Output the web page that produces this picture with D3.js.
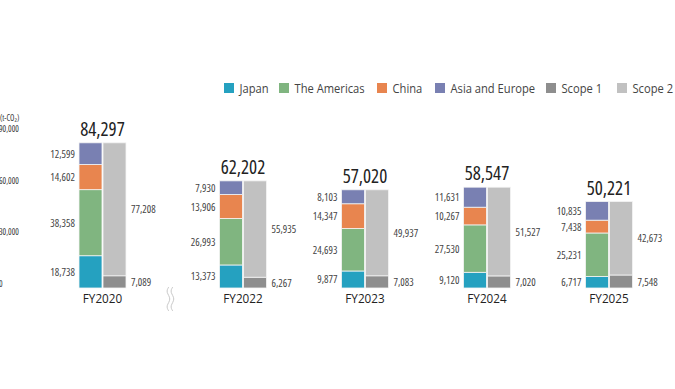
<!DOCTYPE html>
<html>
<head>
<meta charset="utf-8">
<script src="https://cdn.jsdelivr.net/npm/d3@7"></script>
<style>
  body { margin: 0; background: #fff; }
  svg text { font-family: "Open Sans", "Noto Sans", sans-serif; font-stretch: 75%; fill: #222; }
  svg text.wide { font-stretch: 100%; }
</style>
</head>
<body>
<svg id="chart" width="675" height="389"></svg>
<script>
// data
var years = ["FY2020", "FY2022", "FY2023", "FY2024", "FY2025"]
var japan = [18738, 13373, 9877, 9120, 6717]
var americas = [38358, 26993, 24693, 27530, 25231]
var china = [14602, 13906, 14347, 10267, 7438]
var asiaEurope = [12599, 7930, 8103, 11631, 10835]
var scope1 = [7089, 6267, 7083, 7020, 7548]
var scope2 = [77208, 55935, 49937, 51527, 42673]
var totals = [84297, 62202, 57020, 58547, 50221]
var yTicks = [0, 30000, 60000, 90000]
var legendNames = ["Japan", "The Americas", "China", "Asia and Europe", "Scope 1", "Scope 2"]
var colors = ["#25a1c0", "#80b580", "#e8854f", "#7980b2", "#8e8e8e", "#c1c1c1"]

var svg = d3.select("#chart")
var fmt = d3.format(",")

var y = d3.scaleLinear().domain([0, 90000]).range([288, 133])
// FY2022..FY2025 evenly spaced, FY2020 sits before the axis break
var xl = d3.scaleLinear().domain([1, 4]).range([243, 609])
function xc(i) { return i == 0 ? xl(0) - 18.5 : xl(i) }
var bw = 23, gap = 1

// semi-condensed look: regular Open Sans squeezed horizontally
function narrow(sel, x, yy, sx) {
  return sel.attr("class", "wide").attr("transform", "translate(" + x + "," + yy + ") scale(" + sx + ",1)")
}

// axis labels
svg.append("text").attr("x", 0).attr("y", 121).style("font-size", "8px").style("fill", "#333").text("(t-CO\u2082)")
svg.selectAll(".ytick").data(yTicks).enter().append("text")
  .attr("x", -1).attr("y", function (d) { return y(d) - 1 })
  .style("font-size", "8.5px").style("fill", "#333").text(function (d) { return fmt(d) })

var regional = [japan, americas, china, asiaEurope]
var scopes = [scope1, scope2]

years.forEach(function (yr, i) {
  var cx = xc(i)
  var g = svg.append("g")
  // left stacked bar (regions)
  var cum = 0
  regional.forEach(function (ser, k) {
    var v = ser[i]
    var y0 = y(cum), y1 = y(cum + v)
    g.append("rect").attr("x", cx - gap / 2 - bw).attr("y", y1)
      .attr("width", bw).attr("height", y0 - y1)
      .attr("fill", colors[k]).attr("stroke", "#f4f4f4").attr("stroke-width", 0.8)
    g.append("text").attr("x", cx - gap / 2 - bw - 4).attr("y", (y0 + y1) / 2)
      .attr("text-anchor", "end").attr("dominant-baseline", "central")
      .style("font-size", "10.5px").style("fill", "#444").text(fmt(v))
    cum += v
  })
  // right stacked bar (scopes)
  cum = 0
  scopes.forEach(function (ser, k) {
    var v = ser[i]
    var y0 = y(cum), y1 = y(cum + v)
    g.append("rect").attr("x", cx + gap / 2).attr("y", y1)
      .attr("width", bw).attr("height", y0 - y1)
      .attr("fill", colors[4 + k]).attr("stroke", "#f4f4f4").attr("stroke-width", 0.8)
    g.append("text").attr("x", cx + gap / 2 + bw + 5).attr("y", (y0 + y1) / 2)
      .attr("dominant-baseline", "central")
      .style("font-size", "10.5px").style("fill", "#444").text(fmt(v))
    cum += v
  })
  // total
  g.append("text").attr("x", cx).attr("y", y(totals[i]) - 7)
    .attr("text-anchor", "middle").style("font-size", "19px").text(fmt(totals[i]))
  // year
  narrow(g.append("text"), cx, 303, 0.9)
    .attr("text-anchor", "middle").style("font-size", "13px").text(yr)
})

// axis break mark
var bx = (xc(0) + xc(1)) / 2 - 2
var wave = d3.line().curve(d3.curveBasis)
;[-2, 2].forEach(function (off) {
  svg.append("path")
    .attr("d", wave([[bx + off, 287], [bx + off - 3, 292], [bx + off + 3, 299], [bx + off - 3, 306], [bx + off, 311]]))
    .attr("fill", "none").attr("stroke", "#c8c8c8").attr("stroke-width", 1)
})

// legend
var lx = [224, 279, 377, 435, 546, 617]
var leg = svg.selectAll(".leg").data(legendNames).enter().append("g")
  .attr("transform", function (d, i) { return "translate(" + lx[i] + ",83)" })
leg.append("rect").attr("width", 10).attr("height", 10).attr("fill", function (d, i) { return colors[i] })
leg.append("text").each(function () { narrow(d3.select(this), 15.5, 5, 0.86) })
  .attr("dominant-baseline", "central")
  .style("font-size", "13px").style("fill", "#444").text(function (d) { return d })
</script>
</body>
</html>
